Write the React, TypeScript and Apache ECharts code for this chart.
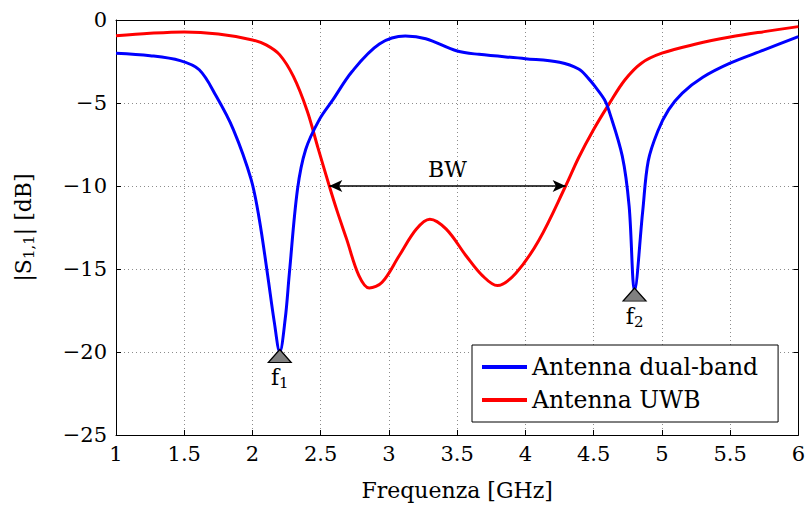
import { useEffect, useRef } from 'react';
import * as echarts from 'echarts';

// Return loss |S11| in dB versus frequency in GHz
const dualBand: [number, number][] = [
  [1.0, -2.0], [1.25, -2.15], [1.47, -2.45], [1.61, -3.0], [1.735, -4.6],
  [1.86, -6.6], [1.99, -9.6], [2.05, -12.0], [2.11, -15.3], [2.16, -18.2],
  [2.2, -20.0], [2.24, -18.0], [2.27, -15.3], [2.33, -10.2], [2.39, -7.8],
  [2.49, -6.0], [2.59, -4.8], [2.73, -3.1], [2.93, -1.45], [3.12, -0.97],
  [3.27, -1.13], [3.5, -1.87], [3.66, -2.07], [4.0, -2.33], [4.25, -2.55],
  [4.39, -2.95], [4.46, -3.5], [4.51, -4.0], [4.58, -4.8], [4.61, -5.4],
  [4.71, -8.2], [4.76, -11.2], [4.8, -16.3], [4.86, -11.5], [4.9, -8.5],
  [4.97, -6.7], [5.05, -5.4], [5.15, -4.4], [5.3, -3.45], [5.5, -2.6],
  [5.75, -1.8], [6.0, -1.0],
];

const uwb: [number, number][] = [
  [1.0, -0.95], [1.25, -0.8], [1.5, -0.72], [1.75, -0.85], [2.0, -1.2],
  [2.1, -1.5], [2.2, -2.1], [2.3, -3.4], [2.4, -5.45], [2.48, -7.7],
  [2.563, -10.0], [2.62, -11.5], [2.69, -13.2], [2.78, -15.4], [2.856, -16.15],
  [2.95, -15.8], [3.075, -14.2], [3.2, -12.6], [3.3, -12.0], [3.42, -12.6],
  [3.565, -14.2], [3.685, -15.4], [3.795, -16.0], [3.93, -15.25], [4.1, -13.25],
  [4.295, -10.0], [4.39, -8.3], [4.5, -6.6], [4.61, -5.1], [4.73, -3.6],
  [4.85, -2.6], [5.0, -2.0], [5.25, -1.45], [5.5, -1.03], [5.75, -0.7],
  [6.0, -0.4],
];

// Resonance markers of the dual-band antenna
const resonanceSubs = ['1', '2'];
const resonanceFreqs = [2.2, 4.8];
const resonanceLevels = [-20.0, -16.3];

// -10 dB bandwidth of the UWB antenna
const bandwidthEdges = [2.563, 4.295];
const bandwidthLevel = -10;

const seriesNames = ['Antenna dual-band', 'Antenna UWB'];

const FONT = '"DejaVu Serif", "Liberation Serif", serif';

const minusFmt = (v: number) => String(v).replace('-', '\u2212');

export default function App() {
  const ref = useRef<HTMLDivElement>(null);

  useEffect(() => {
    if (!ref.current) return;
    const chart = echarts.init(ref.current, undefined, { renderer: 'svg' });

    const gridLine = { show: true, lineStyle: { color: '#8c8c8c', width: 1, type: [1, 3] as number[] } };
    const frame = { show: true, onZero: false, lineStyle: { color: '#000', width: 1 } };
    const tick = { show: true, inside: true, length: 5, lineStyle: { color: '#000', width: 1 } };
    const subRich = {
      b: { fontFamily: FONT, fontSize: 22, color: '#000' },
      s: { fontFamily: FONT, fontSize: 15, color: '#000', padding: [11, 0, 0, 0] },
    };

    chart.setOption({
      animation: false,
      backgroundColor: '#fff',
      grid: { left: 116, right: 8, top: 20, bottom: 70, show: false },
      legend: {
        orient: 'vertical',
        left: 472,
        top: 345,
        data: seriesNames,
        icon: 'rect',
        itemWidth: 45,
        itemHeight: 4,
        itemGap: 9,
        padding: [10, 20, 10, 10],
        borderColor: '#000',
        borderWidth: 1,
        backgroundColor: '#fff',
        textStyle: { fontFamily: FONT, fontSize: 23.5, color: '#000' },
        selectedMode: false,
      },
      xAxis: [
        {
          type: 'value', min: 1, max: 6, interval: 0.5, position: 'bottom',
          axisLine: frame, axisTick: tick, splitLine: gridLine,
          axisLabel: { fontFamily: FONT, fontSize: 21, color: '#000', margin: 8, formatter: minusFmt },
          name: 'Frequenza [GHz]', nameLocation: 'middle', nameGap: 44,
          nameTextStyle: { fontFamily: FONT, fontSize: 22, color: '#000' },
        },
        {
          type: 'value', min: 1, max: 6, interval: 0.5, position: 'top',
          axisLine: frame, axisTick: tick, splitLine: { show: false }, axisLabel: { show: false },
        },
      ],
      yAxis: [
        {
          type: 'value', min: -25, max: 0, interval: 5, position: 'left',
          axisLine: frame, axisTick: tick, splitLine: gridLine,
          axisLabel: { fontFamily: FONT, fontSize: 21, color: '#000', margin: 9, formatter: minusFmt },
          name: '|S{s|1,1}| [dB]', nameLocation: 'middle', nameGap: 80, nameRotate: 90,
          nameTextStyle: { fontFamily: FONT, fontSize: 22, color: '#000', rich: subRich },
        },
        {
          type: 'value', min: -25, max: 0, interval: 5, position: 'right',
          axisLine: frame, axisTick: tick, splitLine: { show: false }, axisLabel: { show: false },
        },
      ],
      series: [
        {
          type: 'line', name: seriesNames[0], data: dualBand,
          showSymbol: false, smooth: 0.35,
          lineStyle: { color: '#0000ff', width: 3 }, itemStyle: { color: '#0000ff' },
          z: 3,
          markPoint: {
            silent: true,
            symbol: 'triangle',
            symbolSize: [23, 13],
            symbolOffset: [0, 4],
            itemStyle: { color: '#808080', borderColor: '#000', borderWidth: 1.2 },
            label: {
              show: true, position: 'bottom', distance: 2,
              fontFamily: FONT, fontSize: 22, color: '#000', rich: subRich,
            },
            data: resonanceFreqs.map((f, i) => ({
              coord: [f, resonanceLevels[i]],
              value: resonanceLevels[i],
              label: { formatter: `{b|f}{s|${resonanceSubs[i]}}` },
            })),
          },
        },
        {
          type: 'line', name: seriesNames[1], data: uwb,
          showSymbol: false, smooth: 0.35,
          lineStyle: { color: '#ff0000', width: 3 }, itemStyle: { color: '#ff0000' },
          z: 2,
          markLine: {
            silent: true,
            symbol: ['arrow', 'arrow'],
            symbolSize: [9, 13],
            lineStyle: { color: '#000', width: 1.5, type: 'solid' },
            label: {
              show: true, position: 'middle', formatter: 'BW', distance: 6,
              fontFamily: FONT, fontSize: 22, color: '#000',
            },
            data: [[
              { coord: [bandwidthEdges[0], bandwidthLevel] },
              { coord: [bandwidthEdges[1], bandwidthLevel] },
            ]],
          },
        },
      ],
    });

    return () => chart.dispose();
  }, []);

  return (
    <div
      ref={ref}
      style={{ position: 'absolute', left: 0, top: 0, width: 808, height: 506 }}
    />
  );
}
